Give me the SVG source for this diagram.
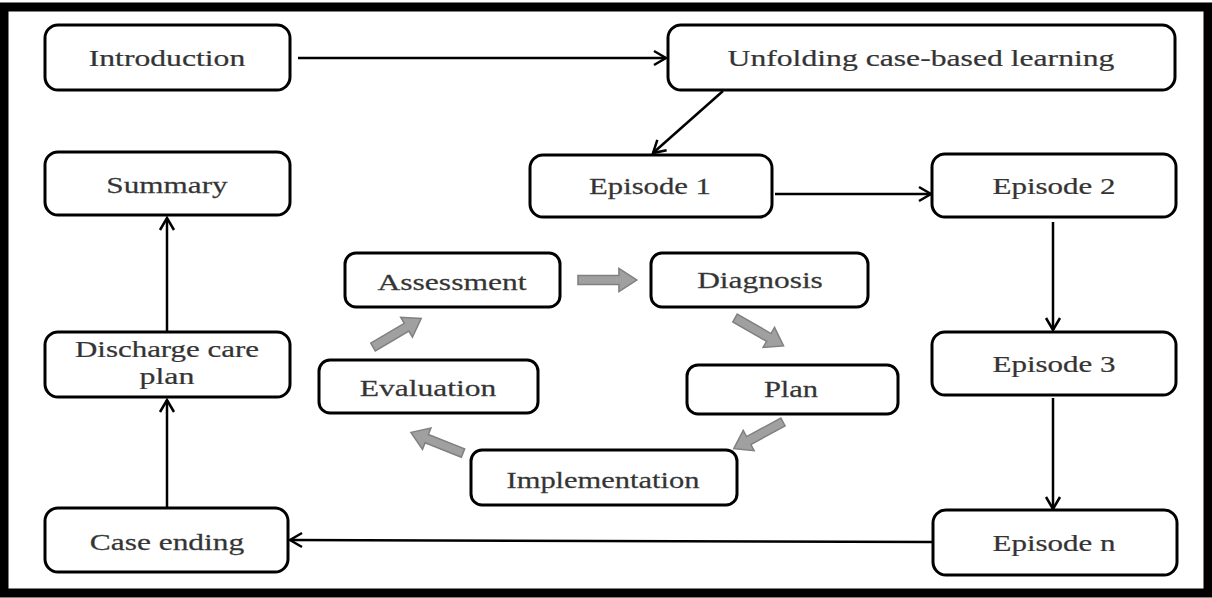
<svg xmlns="http://www.w3.org/2000/svg" width="1212" height="598" viewBox="0 0 1212 598">
<style>
.box{fill:#fff;stroke:#000;stroke-width:3}
.t{font-family:"Liberation Serif","Times New Roman",serif;font-size:24px;fill:#333;stroke:#444;stroke-width:0.25;text-anchor:middle}
.c{fill:none;stroke:#000;stroke-width:2.5}
.g{fill:#a0a0a0;stroke:#808080;stroke-width:1.5}
</style>
<defs>
<marker id="ah" markerUnits="userSpaceOnUse" markerWidth="16" markerHeight="18" viewBox="0 0 16 18" refX="14" refY="9" orient="auto">
<path d="M2,2 L14,9 L2,16" fill="none" stroke="#000" stroke-width="2.5"/>
</marker>
<path id="blk" d="M0,-4.5 L39,-4.5 L39,-11.5 L56,0 L39,11.5 L39,4.5 L0,4.5 Z"/>
</defs>
<rect x="4" y="7" width="1204" height="586" fill="#fff" stroke="#000" stroke-width="9"/>
<g id="connectors">
<line class="c" x1="298" y1="58" x2="666" y2="58" marker-end="url(#ah)"/>
<line class="c" x1="723" y1="91" x2="653" y2="153" marker-end="url(#ah)"/>
<line class="c" x1="775" y1="194" x2="931" y2="194" marker-end="url(#ah)"/>
<line class="c" x1="1053" y1="222" x2="1053" y2="330" marker-end="url(#ah)"/>
<line class="c" x1="1053" y1="398" x2="1053" y2="509" marker-end="url(#ah)"/>
<line class="c" x1="932" y1="542" x2="290" y2="540" marker-end="url(#ah)"/>
<line class="c" x1="167" y1="508" x2="167" y2="400" marker-end="url(#ah)"/>
<line class="c" x1="167" y1="332" x2="167" y2="218" marker-end="url(#ah)"/>
<g id="cycle-arrows">
<use href="#blk" class="g" transform="translate(578,280) scale(1.05,1)"/>
<use href="#blk" class="g" transform="translate(735,318) rotate(29.9)"/>
<use href="#blk" class="g" transform="translate(783,422) rotate(151.6)"/>
<use href="#blk" class="g" transform="translate(463,453) rotate(201.6)"/>
<use href="#blk" class="g" transform="translate(373,347) rotate(-30.6)"/>
</g>
</g>
<g id="introduction"><rect class="box" x="45" y="25" width="245" height="65" rx="13"/><text class="t" transform="matrix(1.32,0,0,1,167,66)">Introduction</text></g>
<g id="unfolding"><rect class="box" x="668" y="25" width="507" height="65" rx="13"/><text class="t" transform="matrix(1.32,0,0,1,921,66)">Unfolding case-based learning</text></g>
<g id="summary"><rect class="box" x="45" y="152" width="245" height="63" rx="13"/><text class="t" transform="matrix(1.3,0,0,1,167,193)">Summary</text></g>
<g id="episode1"><rect class="box" x="530" y="155" width="242" height="62" rx="13"/><text class="t" transform="matrix(1.28,0,0,1,650,194)">Episode 1</text></g>
<g id="episode2"><rect class="box" x="932" y="154" width="244" height="63" rx="13"/><text class="t" transform="matrix(1.29,0,0,1,1054,194)">Episode 2</text></g>
<g id="assessment"><rect class="box" x="345" y="253" width="215" height="54" rx="11"/><text class="t" transform="matrix(1.315,0,0,1,452,290)">Assessment</text></g>
<g id="diagnosis"><rect class="box" x="651" y="253" width="217" height="54" rx="11"/><text class="t" transform="matrix(1.31,0,0,1,760,288)">Diagnosis</text></g>
<g id="discharge"><rect class="box" x="45" y="332" width="245" height="65" rx="13"/><text class="t" transform="matrix(1.29,0,0,1,167,357)">Discharge care</text><text class="t" transform="matrix(1.33,0,0,1,167,384)">plan</text></g>
<g id="episode3"><rect class="box" x="932" y="332" width="244" height="63" rx="13"/><text class="t" transform="matrix(1.29,0,0,1,1054,372)">Episode 3</text></g>
<g id="evaluation"><rect class="box" x="319" y="360" width="219" height="53" rx="11"/><text class="t" transform="matrix(1.315,0,0,1,428,396)">Evaluation</text></g>
<g id="plan"><rect class="box" x="687" y="365" width="211" height="49" rx="11"/><text class="t" transform="matrix(1.27,0,0,1,791,397)">Plan</text></g>
<g id="implementation"><rect class="box" x="471" y="450" width="266" height="55" rx="11"/><text class="t" transform="matrix(1.27,0,0,1,603,488)">Implementation</text></g>
<g id="case-ending"><rect class="box" x="45" y="508" width="243" height="64" rx="13"/><text class="t" transform="matrix(1.31,0,0,1,167,550)">Case ending</text></g>
<g id="episode-n"><rect class="box" x="933" y="510" width="244" height="65" rx="13"/><text class="t" transform="matrix(1.29,0,0,1,1054,551)">Episode n</text></g>
</svg>
